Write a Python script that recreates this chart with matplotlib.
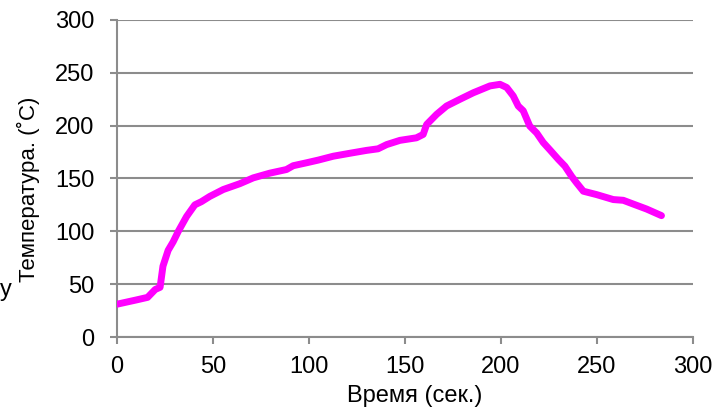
import matplotlib.pyplot as plt

# time (s) and temperature (C)
time_s = [0, 5, 10, 16, 20, 22.5, 24, 26.7, 29.3, 32, 36.3, 40.6, 44, 48.4,
          55.4, 64, 71, 79.7, 88.3, 91.8, 98.8, 104.8, 112.7, 122, 130, 136,
          140.5, 147.4, 156, 159.5, 161.3, 166.5, 171.7, 178.6, 185.6, 194.3,
          199.5, 203, 206.4, 209, 211.6, 215, 218.6, 222, 225.5, 229.9, 233.3,
          236.8, 239.4, 242.9, 249.8, 258.5, 263.7, 270, 275.9, 283.6]
temp_c = [31, 33, 35, 37.5, 45, 47, 67, 82, 90, 100, 114, 125, 128, 133,
          139.5, 145, 150.5, 155, 158.4, 162, 164.8, 167.3, 171, 174, 176.5, 178,
          182, 186, 188.4, 191.6, 201, 210.6, 218.5, 224.8, 231, 237.5,
          239, 236, 228, 218.5, 214, 199.5, 193, 184, 177, 168, 161.6,
          152, 145.8, 137.9, 134.7, 130, 129.3, 125, 121, 114.8]
x_ticks = [0, 50, 100, 150, 200, 250, 300]
y_ticks = [0, 50, 100, 150, 200, 250, 300]

plt.rcParams['font.family'] = ['Liberation Sans', 'DejaVu Sans']
grey = '#8c8c8c'

fig = plt.figure(figsize=(7.17, 4.13), dpi=100)
ax = fig.add_axes([0.163, 0.184, 0.8035, 0.768])

ax.plot(time_s, temp_c, color='#ff00ff', lw=5, solid_capstyle='round',
        solid_joinstyle='round', zorder=3)

ax.set_xlim(0, 300)
ax.set_ylim(0, 300)
ax.set_xticks(x_ticks)
ax.set_yticks(y_ticks)
ax.yaxis.grid(True, color=grey, lw=1.5)
ax.set_axisbelow(True)
for s in ['top', 'right']:
    ax.spines[s].set_visible(False)
for s in ['left', 'bottom']:
    ax.spines[s].set_color(grey)
    ax.spines[s].set_linewidth(1.5)
ax.tick_params(axis='both', colors=grey, labelcolor='black', length=5,
               width=1.5, labelsize=17)
ax.tick_params(axis='y', pad=11)
ax.tick_params(axis='x', pad=9)

ax.set_xlabel('Время (сек.)', fontsize=17, va='center')
ax.xaxis.set_label_coords(0.5165, -0.185)
ax.set_ylabel('Температура. (˚C)', fontsize=16, va='center')
ax.yaxis.set_label_coords(-0.154, 0.467)
fig.text(0.0, 0.298, 'y', fontsize=17, ha='left', va='center')

fig.savefig('out.png', dpi=100)
